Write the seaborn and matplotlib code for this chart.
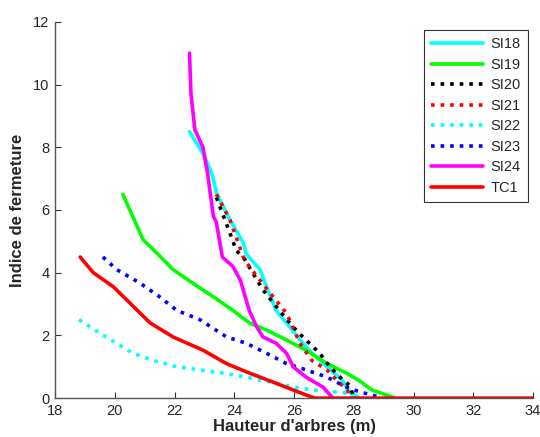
import matplotlib
matplotlib.use("Agg")
import matplotlib.pyplot as plt
import seaborn as sns
import pandas as pd

sns.set_style("white")
plt.rcParams['font.family'] = ['Liberation Sans', 'DejaVu Sans']

# ---- data ----
si18_x = [22.5, 22.95, 23.1, 23.28, 23.4, 23.85, 24.3, 24.4, 24.86, 25.08, 25.4, 25.86, 26.2, 26.6, 27.1, 27.6, 27.9, 28.2]
si18_y = [8.5, 7.8, 7.5, 7.06, 6.55, 5.7, 4.95, 4.6, 4.1, 3.55, 2.8, 2.27, 1.85, 1.43, 1.0, 0.58, 0.15, 0.0]

si19_x = [20.27, 20.5, 20.95, 21.4, 21.95, 22.6, 23.3, 23.95, 24.5, 25.08, 25.75, 26.4, 27.1, 27.75, 28.2, 28.6, 29.4]
si19_y = [6.5, 6.0, 5.05, 4.63, 4.1, 3.67, 3.23, 2.8, 2.4, 2.17, 1.85, 1.53, 1.1, 0.8, 0.55, 0.26, 0.0]

si20_x = [23.4, 23.6, 23.85, 24.07, 24.3, 24.96, 25.5, 25.97, 26.4, 26.86, 27.2, 27.63, 27.87, 28.0]
si20_y = [6.4, 5.9, 5.27, 4.7, 4.5, 3.45, 2.8, 2.27, 1.85, 1.43, 1.0, 0.58, 0.4, 0.0]

si21_x = [23.4, 23.85, 24.3, 24.5, 25.2, 25.75, 26.2, 26.6, 27.1, 27.5, 27.75, 27.9]
si21_y = [6.5, 5.7, 4.5, 4.2, 3.35, 2.7, 1.75, 1.2, 0.9, 0.5, 0.3, 0.0]

si22_x = [18.8, 19.5, 20.06, 20.6, 21.3, 22.07, 22.85, 23.6, 24.4, 25.2, 25.97, 26.6, 27.4, 27.87, 28.0]
si22_y = [2.5, 2.07, 1.75, 1.43, 1.2, 1.0, 0.9, 0.8, 0.67, 0.51, 0.35, 0.26, 0.2, 0.15, 0.0]

si23_x = [19.6, 20.06, 20.84, 21.5, 22.07, 22.85, 23.74, 24.4, 25.08, 25.75, 26.4, 27.1, 27.75, 28.2, 28.8]
si23_y = [4.5, 4.1, 3.67, 3.23, 2.8, 2.5, 1.95, 1.75, 1.43, 1.1, 0.9, 0.67, 0.35, 0.2, 0.05]

si24_x = [22.5, 22.55, 22.68, 22.95, 23.1, 23.3, 23.4, 23.6, 23.95, 24.2, 24.5, 24.75, 24.96, 25.4, 25.75, 25.97, 26.4, 26.97, 27.3]
si24_y = [11.0, 9.7, 8.56, 8.0, 7.2, 5.8, 5.6, 4.5, 4.2, 3.77, 2.8, 2.27, 1.95, 1.75, 1.43, 1.0, 0.67, 0.35, 0.0]

tc1_x = [18.84, 19.28, 19.95, 20.4, 21.18, 21.95, 22.95, 23.74, 24.5, 25.3, 25.97, 26.4, 26.7, 34.0]
tc1_y = [4.5, 4.0, 3.55, 3.13, 2.4, 1.95, 1.53, 1.1, 0.8, 0.51, 0.26, 0.1, 0.0, 0.0]

series = [
    ("SI18", si18_x, si18_y, "#00ffff", "-"),
    ("SI19", si19_x, si19_y, "#00ff00", "-"),
    ("SI20", si20_x, si20_y, "#000000", ":"),
    ("SI21", si21_x, si21_y, "#ff0000", ":"),
    ("SI22", si22_x, si22_y, "#00ffff", ":"),
    ("SI23", si23_x, si23_y, "#0000ff", ":"),
    ("SI24", si24_x, si24_y, "#ff00ff", "-"),
    ("TC1", tc1_x, tc1_y, "#ff0000", "-"),
]

fig = plt.figure(figsize=(5.4, 4.37), dpi=100)
ax = fig.add_axes([0.102, 0.089, 0.885, 0.861])

for name, xs, ys, col, ls in series:
    df = pd.DataFrame({"x": xs, "y": ys})
    sns.lineplot(data=df, x="x", y="y", ax=ax, color=col, linestyle=ls,
                 linewidth=2.6, label=name, sort=False, estimator=None)

ax.set_xlim(18, 34)
ax.set_ylim(0, 12)
ax.set_xticks(range(18, 35, 2))
ax.set_yticks(range(0, 13, 2))
for s in ["top", "right"]:
    ax.spines[s].set_visible(False)
for s in ["left", "bottom"]:
    ax.spines[s].set_color("#555555")
    ax.spines[s].set_linewidth(1.0)
ax.tick_params(direction="in", length=4, width=0.8, color="#333333",
               labelsize=10.5, left=True, bottom=True)
ax.tick_params(axis="x", pad=4)
ax.tick_params(axis="y", pad=4)
ax.set_xlabel("Hauteur d'arbres (m)", fontsize=12, fontweight="bold", labelpad=1)
ax.set_ylabel("Indice de fermeture", fontsize=12, fontweight="bold", labelpad=6)

leg = ax.legend(loc="upper right", bbox_to_anchor=(0.99, 0.979), borderaxespad=0,
                fontsize=10.5, frameon=True, fancybox=False, handlelength=3.6,
                handletextpad=0.5, borderpad=0.5, labelspacing=0.45)
leg.get_frame().set_edgecolor("black")
leg.get_frame().set_linewidth(0.8)

fig.savefig("out.png", dpi=100)
